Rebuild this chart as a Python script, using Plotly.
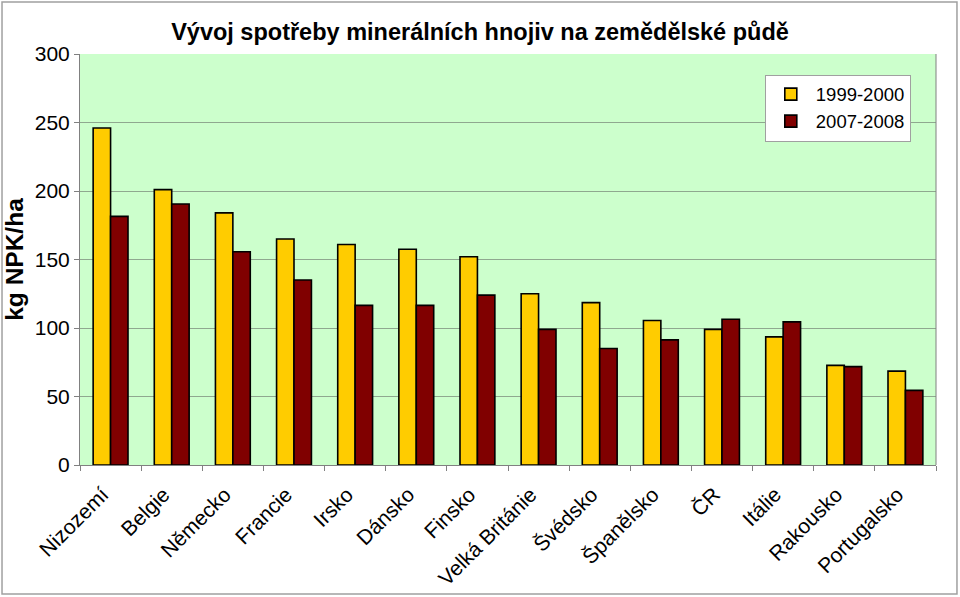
import plotly.graph_objects as go

categories = ["Nizozemí", "Belgie", "Německo", "Francie", "Irsko", "Dánsko", "Finsko",
              "Velká Británie", "Švédsko", "Španělsko", "ČR", "Itálie", "Rakousko", "Portugalsko"]
values_1999_2000 = [246, 201, 184, 165, 161, 157.5, 152, 125, 118.5, 105.5, 99, 93.5, 72.7, 68.5]
values_2007_2008 = [181.5, 190.5, 155.7, 135, 116.5, 116.5, 124, 99, 85, 91.3, 106.4, 104.5, 71.8, 54.5]
series_names = ["1999-2000", "2007-2008"]
y_ticks = [0, 50, 100, 150, 200, 250, 300]

FONT = "Liberation Sans, Arial, sans-serif"

fig = go.Figure()
fig.add_trace(go.Bar(x=categories, y=values_1999_2000, name=series_names[0],
                     marker=dict(color="#FFCC00", line=dict(color="#000000", width=1.6))))
fig.add_trace(go.Bar(x=categories, y=values_2007_2008, name=series_names[1],
                     marker=dict(color="#800000", line=dict(color="#000000", width=1.6))))

fig.update_layout(
    width=960, height=597,
    margin=dict(l=80, r=24, t=54, b=132, autoexpand=False),
    paper_bgcolor="white",
    plot_bgcolor="#CCFFCC",
    barmode="group",
    bargap=0.43,
    bargroupgap=0,
    font=dict(family=FONT, size=21, color="black"),
    title=dict(text="<b>Vývoj spotřeby minerálních hnojiv na zemědělské půdě</b>",
               x=0.5, xanchor="center", y=0.946, yanchor="middle",
               font=dict(family=FONT, size=23.5, color="black")),
    showlegend=True,
    legend=dict(x=0.80, y=0.95, xanchor="left", yanchor="top",
                bgcolor="white", bordercolor="#A0A0A0", borderwidth=1,
                font=dict(family=FONT, size=18.5), tracegroupgap=4,
                itemwidth=40, traceorder="normal"),
    xaxis=dict(type="category", tickangle=-45, tickson="boundaries",
               ticks="outside", ticklen=5, tickcolor="#808080",
               showline=True, linecolor="#808080", linewidth=1,
               showgrid=False, tickfont=dict(family=FONT, size=21),
               ticklabelshift=-8, ticklabelstandoff=8,
               automargin=False),
    yaxis=dict(range=[0, 300], tickvals=y_ticks, ticks="outside", ticklen=5,
               tickcolor="#808080", showline=True, linecolor="#808080", linewidth=1,
               showgrid=True, gridcolor="#8FA88F", gridwidth=1,
               tickfont=dict(family=FONT, size=21),
               title=dict(text="<b>kg NPK/ha</b>", font=dict(family=FONT, size=24.5), standoff=4),
               zeroline=False, automargin=False),
    shapes=[dict(type="rect", xref="paper", yref="paper",
                 x0=-0.0911, x1=1.0245, y0=-0.3139, y1=1.1265,
                 line=dict(color="#A0A0A0", width=1.5), fillcolor="rgba(0,0,0,0)", layer="below"),
            dict(type="line", xref="paper", yref="paper", x0=1, x1=1, y0=0, y1=1,
                 line=dict(color="#808080", width=1))],
)

fig.write_html("out.html", config={"displayModeBar": False},
               post_script="document.body.style.margin='0';document.body.style.padding='0';")
